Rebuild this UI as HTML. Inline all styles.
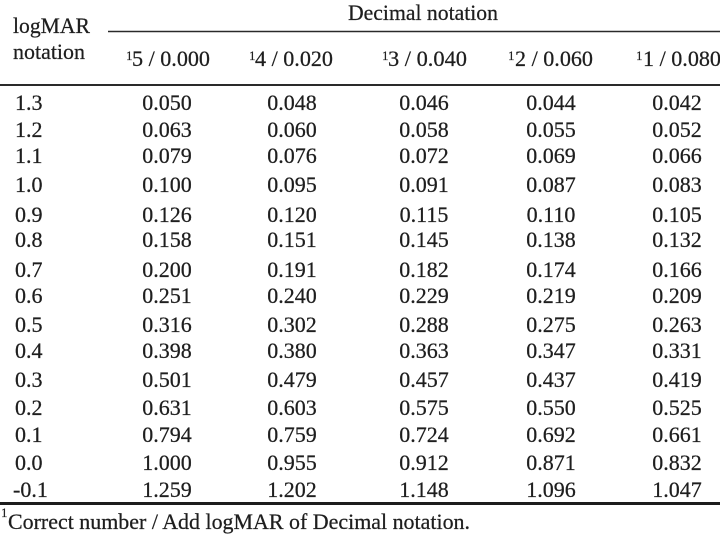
<!DOCTYPE html>
<html><head><meta charset="utf-8">
<style>
html,body{margin:0;padding:0;background:#fff;}
svg{display:block;}
text{font-family:"Liberation Serif","Times New Roman",serif;fill:#1e1e1e;stroke:#1e1e1e;stroke-width:0.25;font-size:22px;}
.c{text-anchor:middle;}
.s{font-size:13px;stroke-width:0.15;}
</style></head>
<body>
<svg width="720" height="538" viewBox="0 0 720 538" xmlns="http://www.w3.org/2000/svg">
<rect width="720" height="538" fill="#fff"/>
<!-- header -->
<text x="13" y="33" textLength="77" lengthAdjust="spacingAndGlyphs">logMAR</text>
<text x="13" y="59" textLength="72" lengthAdjust="spacingAndGlyphs">notation</text>
<text x="348" y="20" textLength="150" lengthAdjust="spacingAndGlyphs">Decimal notation</text>
<line x1="108" y1="31.5" x2="720" y2="31.5" stroke="#2a2a2a" stroke-width="1.6"/>

<text class="s" x="126" y="60">1</text><text x="132" y="66" textLength="78" lengthAdjust="spacingAndGlyphs">5 / 0.000</text>
<text class="s" x="249" y="60">1</text><text x="255" y="66" textLength="78" lengthAdjust="spacingAndGlyphs">4 / 0.020</text>
<text class="s" x="382" y="60">1</text><text x="388" y="66" textLength="79" lengthAdjust="spacingAndGlyphs">3 / 0.040</text>
<text class="s" x="508" y="60">1</text><text x="515" y="66" textLength="78" lengthAdjust="spacingAndGlyphs">2 / 0.060</text>
<text class="s" x="636" y="60">1</text><text x="643" y="66" textLength="78" lengthAdjust="spacingAndGlyphs">1 / 0.080</text>

<line x1="0" y1="85" x2="720" y2="85" stroke="#2a2a2a" stroke-width="2"/>

<!-- rows -->
<g>
<text x="15" y="110">1.3</text><text class="c" x="167" y="110">0.050</text><text class="c" x="292" y="110">0.048</text><text class="c" x="424" y="110">0.046</text><text class="c" x="551" y="110">0.044</text><text class="c" x="677" y="110">0.042</text>
<text x="15" y="137">1.2</text><text class="c" x="167" y="137">0.063</text><text class="c" x="292" y="137">0.060</text><text class="c" x="424" y="137">0.058</text><text class="c" x="551" y="137">0.055</text><text class="c" x="677" y="137">0.052</text>
<text x="15" y="163">1.1</text><text class="c" x="167" y="163">0.079</text><text class="c" x="292" y="163">0.076</text><text class="c" x="424" y="163">0.072</text><text class="c" x="551" y="163">0.069</text><text class="c" x="677" y="163">0.066</text>
<text x="15" y="192">1.0</text><text class="c" x="167" y="192">0.100</text><text class="c" x="292" y="192">0.095</text><text class="c" x="424" y="192">0.091</text><text class="c" x="551" y="192">0.087</text><text class="c" x="677" y="192">0.083</text>
<text x="15" y="222">0.9</text><text class="c" x="167" y="222">0.126</text><text class="c" x="292" y="222">0.120</text><text class="c" x="424" y="222">0.115</text><text class="c" x="551" y="222">0.110</text><text class="c" x="677" y="222">0.105</text>
<text x="15" y="247">0.8</text><text class="c" x="167" y="247">0.158</text><text class="c" x="292" y="247">0.151</text><text class="c" x="424" y="247">0.145</text><text class="c" x="551" y="247">0.138</text><text class="c" x="677" y="247">0.132</text>
<text x="15" y="277">0.7</text><text class="c" x="167" y="277">0.200</text><text class="c" x="292" y="277">0.191</text><text class="c" x="424" y="277">0.182</text><text class="c" x="551" y="277">0.174</text><text class="c" x="677" y="277">0.166</text>
<text x="15" y="303">0.6</text><text class="c" x="167" y="303">0.251</text><text class="c" x="292" y="303">0.240</text><text class="c" x="424" y="303">0.229</text><text class="c" x="551" y="303">0.219</text><text class="c" x="677" y="303">0.209</text>
<text x="15" y="332">0.5</text><text class="c" x="167" y="332">0.316</text><text class="c" x="292" y="332">0.302</text><text class="c" x="424" y="332">0.288</text><text class="c" x="551" y="332">0.275</text><text class="c" x="677" y="332">0.263</text>
<text x="15" y="358">0.4</text><text class="c" x="167" y="358">0.398</text><text class="c" x="292" y="358">0.380</text><text class="c" x="424" y="358">0.363</text><text class="c" x="551" y="358">0.347</text><text class="c" x="677" y="358">0.331</text>
<text x="15" y="387">0.3</text><text class="c" x="167" y="387">0.501</text><text class="c" x="292" y="387">0.479</text><text class="c" x="424" y="387">0.457</text><text class="c" x="551" y="387">0.437</text><text class="c" x="677" y="387">0.419</text>
<text x="15" y="415">0.2</text><text class="c" x="167" y="415">0.631</text><text class="c" x="292" y="415">0.603</text><text class="c" x="424" y="415">0.575</text><text class="c" x="551" y="415">0.550</text><text class="c" x="677" y="415">0.525</text>
<text x="15" y="442">0.1</text><text class="c" x="167" y="442">0.794</text><text class="c" x="292" y="442">0.759</text><text class="c" x="424" y="442">0.724</text><text class="c" x="551" y="442">0.692</text><text class="c" x="677" y="442">0.661</text>
<text x="15" y="470">0.0</text><text class="c" x="167" y="470">1.000</text><text class="c" x="292" y="470">0.955</text><text class="c" x="424" y="470">0.912</text><text class="c" x="551" y="470">0.871</text><text class="c" x="677" y="470">0.832</text>
<text x="13" y="497">-0.1</text><text class="c" x="167" y="497">1.259</text><text class="c" x="292" y="497">1.202</text><text class="c" x="424" y="497">1.148</text><text class="c" x="551" y="497">1.096</text><text class="c" x="677" y="497">1.047</text>
</g>

<line x1="0" y1="503.5" x2="720" y2="503.5" stroke="#1c1c1c" stroke-width="3"/>

<!-- footnote -->
<text class="s" x="1" y="517">1</text>
<text x="8" y="529" textLength="462" lengthAdjust="spacingAndGlyphs">Correct number / Add logMAR of Decimal notation.</text>
</svg>
</body></html>
